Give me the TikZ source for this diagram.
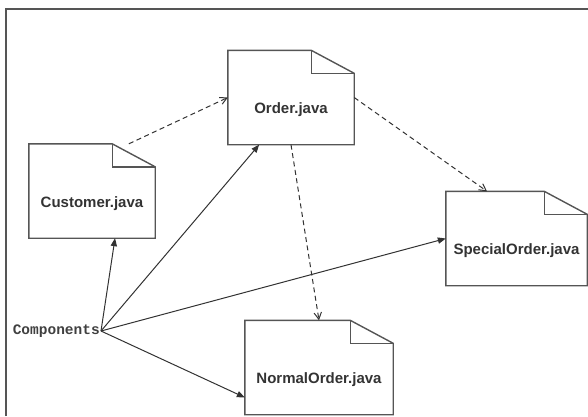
\documentclass[tikz,border=0pt]{standalone}
\usepackage{fontspec}
\setmainfont{Liberation Sans}
\setmonofont{Liberation Mono}
\usetikzlibrary{arrows.meta,calc}
\definecolor{umlline}{RGB}{50,50,50}
\definecolor{umlbox}{RGB}{85,85,85}
\tikzset{
  docfile/.style={rectangle, inner sep=0pt, minimum height=94pt,
                  text height=32pt, text depth=0pt,
                  font=\fontsize{15}{17}\selectfont\bfseries, text=black!80},
  page/.style={draw=umlbox, line width=1.4pt, line join=miter},
  dep/.style={-{Straight Barb[length=2.4mm,width=2.6mm]}, dash pattern=on 5pt off 3.5pt,
              line width=1pt, umlline},
  use/.style={-{Triangle[length=2.8mm,width=2.2mm]}, line width=1pt, umlline},
  comp/.style={font=\fontsize{14.5}{16}\selectfont\ttfamily\bfseries, text=black!75,
               inner sep=1pt}
}

\begin{document}
\begin{tikzpicture}[x=1pt,y=-1pt]
        \useasboundingbox (0,0) rectangle (588,416);
        \draw[umlbox, line width=1.4pt] (6,416) |- (588,9);
        % source files
        \node[docfile, minimum width=126pt] (cust) at (92,191) {Customer.java};
        \node[docfile, minimum width=126pt] (ord) at (291,97.5) {Order.java};
        \node[docfile, minimum width=141pt] (spec) at (516.5,238.5) {SpecialOrder.java};
        \node[docfile, minimum width=148pt] (norm) at (319,367.5) {NormalOrder.java};
        \node[comp, anchor=east] (comp) at (101,331) {Components};
        \foreach \f in {cust,ord,spec,norm}{
          \draw[page] (\f.south west) -- (\f.north west) -- ([xshift=-43pt]\f.north east)
            -- ([yshift=-23pt]\f.north east) -- (\f.south east) -- cycle;
          \draw[page] ([xshift=-43pt]\f.north east) |- ([yshift=-23pt]\f.north east);
        }
        % dependencies
        \draw[dep] (cust.52) -- (ord.west);
        \draw[dep] (ord.east) -- (spec.122);
        \draw[dep] (ord.south) -- (norm.north);
        \draw[use] (comp.east) -- (cust.-64);
        \draw[use] (comp.east) -- (ord.236);
        \draw[use] (comp.east) -- (spec.west);
        \draw[use] (comp.east) -- (norm.202);
      \end{tikzpicture}
\end{document}
